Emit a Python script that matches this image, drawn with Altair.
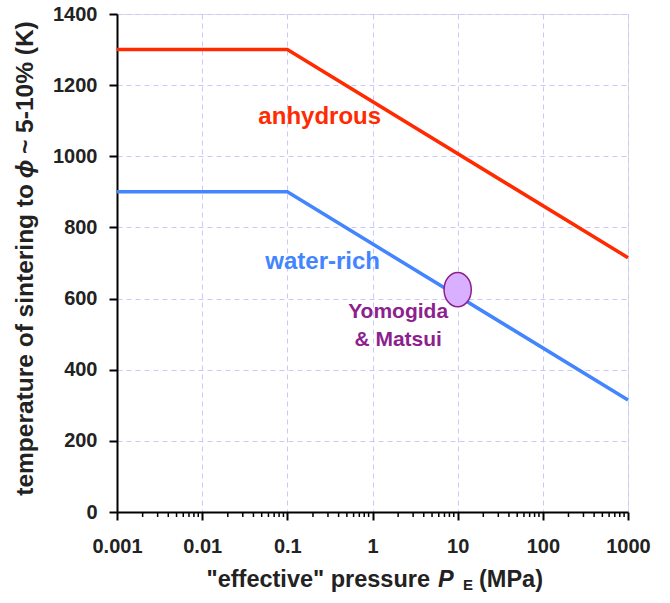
import altair as alt
import pandas as pd

# Sintering temperature vs effective pressure (two regimes)
pressure_mpa = [0.001, 0.1, 1000]
temp_anhydrous = [1300, 1300, 715]
temp_water_rich = [900, 900, 315]

# Experimental point
exp_pressure = [10]
exp_temp = [625]

x_major = [0.001, 0.01, 0.1, 1, 10, 100, 1000]
y_major = [0, 200, 400, 600, 800, 1000, 1200, 1400]
x_minor = [m * 10.0 ** e for e in range(-3, 3) for m in range(2, 10)]

W, H = 511, 498
FONT = "Liberation Sans"
RED = "#ff2a00"
BLUE = "#4385ff"
PURPLE = "#8e1f8e"

lines = pd.DataFrame({
    "p": pressure_mpa * 2,
    "T": temp_anhydrous + temp_water_rich,
    "series": ["anhydrous"] * 3 + ["water-rich"] * 3,
})

xs = alt.Scale(type="log", domain=[0.001, 1000], nice=False)
ys = alt.Scale(domain=[0, 1400], nice=False)

common = dict(title=None, grid=True, gridColor="#c8c8ff", gridDash=[5, 4],
              gridWidth=1, domainColor="black", domainWidth=2,
              tickColor="black", tickWidth=2, tickSize=8, labelFont=FONT,
              labelFontSize=20, labelFontWeight="bold", labelColor="#222222",
              labelFlush=False, labelOverlap=False)
x_axis = alt.Axis(values=x_major, format="~g", labelPadding=16, **common)
y_axis = alt.Axis(values=y_major, format="d", labelPadding=12, **common)

line_layer = alt.Chart(lines).mark_line(strokeWidth=3.5).encode(
    x=alt.X("p:Q", scale=xs, axis=x_axis),
    y=alt.Y("T:Q", scale=ys, axis=y_axis),
    color=alt.Color("series:N", scale=alt.Scale(domain=["anhydrous", "water-rich"],
                                                 range=[RED, BLUE]), legend=None),
    detail="series:N",
)

minor = alt.Chart(pd.DataFrame({"p": x_minor})).mark_rule(
    color="black", strokeWidth=1.5).encode(
    x=alt.X("p:Q", scale=xs), y=alt.value(H), y2=alt.value(H + 5))

ellipse_path = "M0,-1.26A1,1.26 0 1,1 0,1.26A1,1.26 0 1,1 0,-1.26Z"
point = alt.Chart(pd.DataFrame({"p": exp_pressure, "T": exp_temp})).mark_point(
    shape=ellipse_path, size=740, filled=True, fill="#d9b0ff", stroke=PURPLE,
    strokeWidth=1.5, opacity=1).encode(
    x=alt.X("p:Q", scale=xs), y=alt.Y("T:Q", scale=ys))

labels = pd.DataFrame({
    "p": [0.24, 0.26, 2.0, 2.0],
    "T": [1110, 703, 562, 484],
    "txt": ["anhydrous", "water-rich", "Yomogida", "& Matsui"],
    "col": [RED, BLUE, PURPLE, PURPLE],
    "size": [24, 24, 21, 21],
})
label_layer = alt.Chart(labels).mark_text(
    font=FONT, fontWeight="bold", align="center", baseline="middle").encode(
    x=alt.X("p:Q", scale=xs), y=alt.Y("T:Q", scale=ys), text="txt:N",
    color=alt.Color("col:N", scale=None), size=alt.Size("size:Q", scale=None))

# Axis titles with italic symbols, built from pieces
def piece(txt, x, y, size, style="normal", angle=0, align="left",
          baseline="alphabetic"):
    kw = dict(font=FONT, fontWeight="bold", fontSize=size, fontStyle=style,
              align=align, baseline=baseline, color="#222222")
    if angle:
        kw["angle"] = angle
    return alt.Chart(pd.DataFrame({"t": [txt]})).mark_text(**kw).encode(
        x=alt.value(x), y=alt.value(y), text="t:N")

ox, oy = 117, 14
TS = 23.5
xb = 587 - oy
x_title = [
    piece('"effective" pressure', 430 - ox, xb, TS, align="right"),
    piece("P", 438 - ox, xb, TS, style="italic"),
    piece("E", 463 - ox, xb + 3, 15),
    piece("(MPa)", 479 - ox, xb, TS),
]
yb = 33 - ox
YS = 24.5
y_title = [
    piece("temperature of sintering to", yb, 184 - oy, YS, angle=270, align="right"),
    piece("\u03d5", yb, 169 - oy, YS, style="italic", angle=270, align="center"),
    piece("~ 5-10% (K)", yb, 154 - oy, YS, angle=270),
]

chart = alt.layer(line_layer, minor, point, label_layer, *x_title, *y_title).properties(
    width=W, height=H, autosize="none",
    padding={"left": ox, "top": oy, "right": 670 - ox - W, "bottom": 603 - oy - H},
).configure_view(stroke="black", strokeWidth=2).configure(background="white")

chart.save("out.html", embed_options={"renderer": "svg", "actions": False})
